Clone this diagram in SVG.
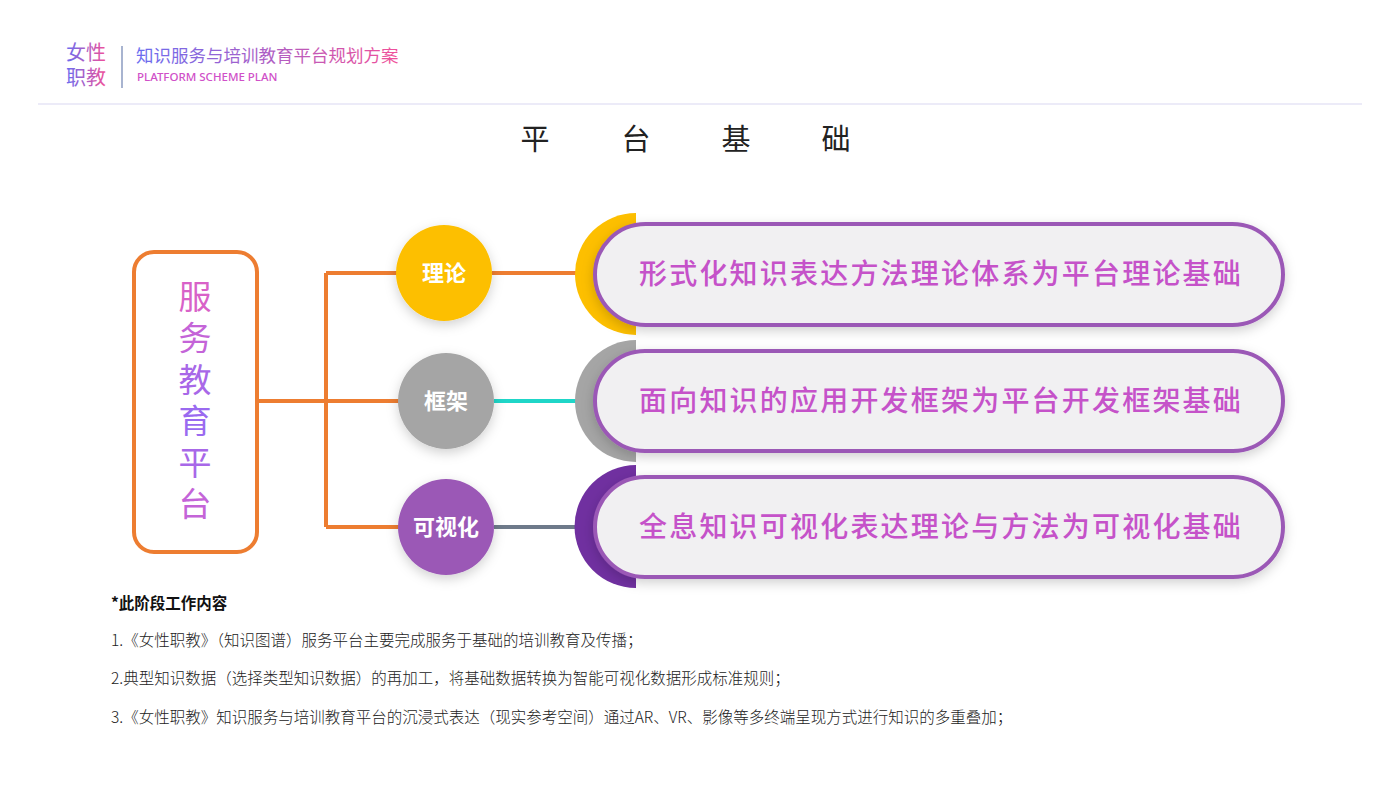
<svg xmlns="http://www.w3.org/2000/svg" width="1399" height="787" viewBox="0 0 1399 787">
<defs>
<linearGradient id="lg" x1="0" y1="0" x2="1" y2="0"><stop offset="0" stop-color="#6a6cf0"/><stop offset="1" stop-color="#f0509a"/></linearGradient>
<linearGradient id="vg" x1="0" y1="0" x2="0" y2="1"><stop offset="0" stop-color="#e060c0"/><stop offset="1" stop-color="#8a6af0"/></linearGradient>
<filter id="sh" x="-20%" y="-30%" width="140%" height="160%"><feDropShadow dx="0" dy="4" stdDeviation="6" flood-color="#000" flood-opacity="0.18"/></filter>
<style>
.pill{fill:#f1f0f2;stroke:#9b59b6;stroke-width:4}
.pt{font-family:"Noto Sans CJK SC",sans-serif;font-size:28px;font-weight:500;fill:#c552c9;letter-spacing:2.2px;text-anchor:middle}
.ct{font-family:"Noto Sans CJK SC",sans-serif;font-size:22px;fill:#fff;font-weight:bold;text-anchor:middle}
.ln{fill:none;stroke-width:4}
.bt{font-family:"Noto Sans CJK SC",sans-serif;font-size:15.5px;font-weight:300;fill:#222}
.bh{font-family:"Noto Sans CJK SC",sans-serif;font-size:15.5px;font-weight:bold;fill:#111}
.tt{font-family:"Noto Sans CJK SC",sans-serif;font-size:29px;fill:#222;text-anchor:middle}
.vt{font-family:"Noto Sans CJK SC",sans-serif;font-size:33px;text-anchor:middle}
</style>
</defs>
<rect width="1399" height="787" fill="#fff"/>
<g id="header">
<text x="66" y="60" font-family="Noto Sans CJK SC,sans-serif" font-size="20" fill="url(#lg)">女性</text>
<text x="66" y="85" font-family="Noto Sans CJK SC,sans-serif" font-size="20" fill="url(#lg)">职教</text>
<line x1="122" y1="46" x2="122" y2="88" stroke="#a8b4d0" stroke-width="2"/>
<text x="136" y="62" font-family="Noto Sans CJK SC,sans-serif" font-size="17.5" fill="url(#lg)">知识服务与培训教育平台规划方案</text>
<text x="137" y="81" font-family="Noto Sans,sans-serif" font-size="11.5" font-weight="500" fill="#d050c8">PLATFORM SCHEME PLAN</text>
<line x1="38" y1="104" x2="1362" y2="104" stroke="#ecebf8" stroke-width="2"/>
<text class="tt" x="535" y="150">平</text><text class="tt" x="636" y="150">台</text><text class="tt" x="736" y="150">基</text><text class="tt" x="836" y="150">础</text>
</g>
<g id="connectors">
<path class="ln" stroke="#ed7d31" d="M257 401H326M326 273V527M326 273H400M326 401H400M326 527H400M492 273H584"/>
<path class="ln" stroke="#1fd6c8" d="M494 401H584"/>
<path class="ln" stroke="#6e7a8a" d="M494 527H584"/>
</g>
<g id="root">
<rect x="134" y="252" width="123" height="300" rx="20" fill="#fff" stroke="#ed7d31" stroke-width="4"/>
<text class="vt" x="195" y="309" fill="#d862c8">服</text>
<text class="vt" x="195" y="350" fill="#c464d8">务</text>
<text class="vt" x="195" y="392" fill="#a868e8">教</text>
<text class="vt" x="195" y="433" fill="#9a6af0">育</text>
<text class="vt" x="195" y="475" fill="#a868e8">平</text>
<text class="vt" x="195" y="516" fill="#c464d8">台</text>
</g>
<g id="n1">
<circle cx="444" cy="273" r="48" fill="#fdbf00" filter="url(#sh)"/>
<text class="ct" x="444" y="281">理论</text>
</g>
<g id="n2">
<circle cx="446" cy="401" r="48" fill="#a5a5a5" filter="url(#sh)"/>
<text class="ct" x="446" y="409">框架</text>
</g>
<g id="n3">
<circle cx="446" cy="527" r="48" fill="#9b59b6" filter="url(#sh)"/>
<text class="ct" x="446" y="535">可视化</text>
</g>
<g id="p1">
<path d="M636 213A61 61 0 0 0 636 335Z" fill="#fdbf00"/>
<rect class="pill" x="595" y="224" width="688" height="101" rx="50.5" filter="url(#sh)"/>
<text class="pt" x="941" y="284">形式化知识表达方法理论体系为平台理论基础</text>
</g>
<g id="p2">
<path d="M636 340A61 61 0 0 0 636 462Z" fill="#a5a5a5"/>
<rect class="pill" x="595" y="351" width="688" height="100" rx="50" filter="url(#sh)"/>
<text class="pt" x="941" y="411">面向知识的应用开发框架为平台开发框架基础</text>
</g>
<g id="p3">
<path d="M636 465A61.5 61.5 0 0 0 636 588Z" fill="#7030a0"/>
<rect class="pill" x="595" y="477" width="688" height="100" rx="50" filter="url(#sh)"/>
<text class="pt" x="941" y="537">全息知识可视化表达理论与方法为可视化基础</text>
</g>
<g id="notes">
<text class="bh" x="111" y="609">*此阶段工作内容</text>
<text class="bt" x="111" y="646">1.《女性职教》（知识图谱）服务平台主要完成服务于基础的培训教育及传播；</text>
<text class="bt" x="111" y="684">2.典型知识数据（选择类型知识数据）的再加工，将基础数据转换为智能可视化数据形成标准规则；</text>
<text class="bt" x="111" y="723">3.《女性职教》知识服务与培训教育平台的沉浸式表达（现实参考空间）通过AR、VR、影像等多终端呈现方式进行知识的多重叠加；</text>
</g>
</svg>
